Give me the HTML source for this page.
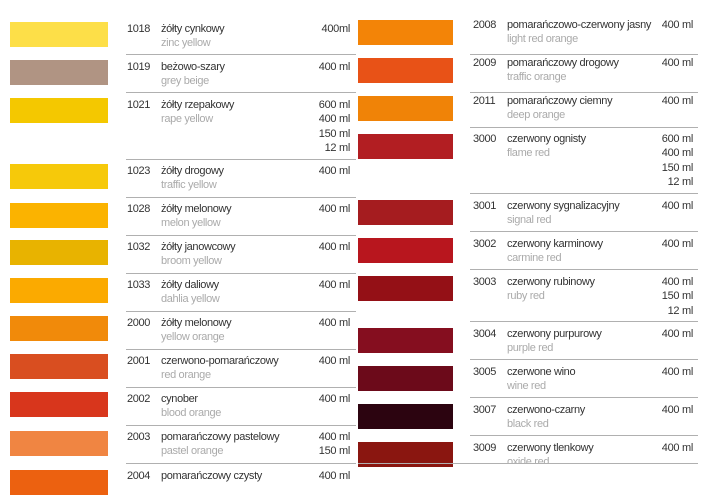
<!DOCTYPE html>
<html><head><meta charset="utf-8"><style>
body{margin:0;width:720px;height:484px;background:#fff;position:relative;overflow:hidden;font-family:"Liberation Sans","DejaVu Sans",sans-serif;font-size:11px;color:#333}
.s{position:absolute;height:25px}
.l{left:10px;width:98px}.r{left:358px;width:95px}
.t{position:absolute;line-height:14px;white-space:nowrap;letter-spacing:-0.35px}
.g{color:#aaa}
.h{position:absolute;height:1px;background:#b0b0b0}
.hl{left:126px;width:230px}.hr{left:470px;width:228px}
.m{position:absolute;text-align:right;line-height:14.3px;width:60px;letter-spacing:-0.3px}
</style></head><body>
<div class="s l" style="top:22px;background:#fddf48"></div>
<div class="s l" style="top:60px;background:#b09483"></div>
<div class="s l" style="top:98px;background:#f4c800"></div>
<div class="s l" style="top:164px;background:#f6c90a"></div>
<div class="s l" style="top:203px;background:#fbb300"></div>
<div class="s l" style="top:240px;background:#e8b300"></div>
<div class="s l" style="top:278px;background:#fbaa00"></div>
<div class="s l" style="top:316px;background:#f18a0a"></div>
<div class="s l" style="top:354px;background:#d94e20"></div>
<div class="s l" style="top:392px;background:#d8361c"></div>
<div class="s l" style="top:431px;background:#f08542"></div>
<div class="s l" style="top:470px;background:#ec6110"></div>
<div class="s r" style="top:20px;background:#f38407"></div>
<div class="s r" style="top:58px;background:#e85217"></div>
<div class="s r" style="top:96px;background:#f08307"></div>
<div class="s r" style="top:134px;background:#b21e22"></div>
<div class="s r" style="top:200px;background:#a51c1f"></div>
<div class="s r" style="top:238px;background:#b8161e"></div>
<div class="s r" style="top:276px;background:#941016"></div>
<div class="s r" style="top:328px;background:#850e1f"></div>
<div class="s r" style="top:366px;background:#6c0a1a"></div>
<div class="s r" style="top:404px;background:#2c0410"></div>
<div class="s r" style="top:442px;background:#8a1610"></div>
<div class="h hl" style="top:54px"></div><div class="h hl" style="top:92px"></div>
<div class="h hl" style="top:159px"></div><div class="h hl" style="top:197px"></div>
<div class="h hl" style="top:235px"></div><div class="h hl" style="top:273px"></div>
<div class="h hl" style="top:311px"></div><div class="h hl" style="top:349px"></div>
<div class="h hl" style="top:387px"></div><div class="h hl" style="top:425px"></div>
<div class="h hl" style="top:463px"></div>
<div class="h hr" style="top:54px"></div><div class="h hr" style="top:92px"></div>
<div class="h hr" style="top:127px"></div><div class="h hr" style="top:193px"></div>
<div class="h hr" style="top:231px"></div><div class="h hr" style="top:269px"></div>
<div class="h hr" style="top:321px"></div><div class="h hr" style="top:359px"></div>
<div class="h hr" style="top:397px"></div><div class="h hr" style="top:435px"></div>
<div class="h" style="top:463px;left:358px;width:340px"></div>
<div class="t" style="left:127px;top:22px">1018</div><div class="t" style="left:161px;top:22px">żółty cynkowy<br><span class="g">zinc yellow</span></div><div class="m" style="left:290px;top:22px">400ml</div>
<div class="t" style="left:127px;top:60px">1019</div><div class="t" style="left:161px;top:60px">beżowo-szary<br><span class="g">grey beige</span></div><div class="m" style="left:290px;top:60px">400 ml</div>
<div class="t" style="left:127px;top:98px">1021</div><div class="t" style="left:161px;top:98px">żółty rzepakowy<br><span class="g">rape yellow</span></div><div class="m" style="left:290px;top:98px">600 ml<br>400 ml<br>150 ml<br>12 ml</div>
<div class="t" style="left:127px;top:164px">1023</div><div class="t" style="left:161px;top:164px">żółty drogowy<br><span class="g">traffic yellow</span></div><div class="m" style="left:290px;top:164px">400 ml</div>
<div class="t" style="left:127px;top:202px">1028</div><div class="t" style="left:161px;top:202px">żółty melonowy<br><span class="g">melon yellow</span></div><div class="m" style="left:290px;top:202px">400 ml</div>
<div class="t" style="left:127px;top:240px">1032</div><div class="t" style="left:161px;top:240px">żółty janowcowy<br><span class="g">broom yellow</span></div><div class="m" style="left:290px;top:240px">400 ml</div>
<div class="t" style="left:127px;top:278px">1033</div><div class="t" style="left:161px;top:278px">żółty daliowy<br><span class="g">dahlia yellow</span></div><div class="m" style="left:290px;top:278px">400 ml</div>
<div class="t" style="left:127px;top:316px">2000</div><div class="t" style="left:161px;top:316px">żółty melonowy<br><span class="g">yellow orange</span></div><div class="m" style="left:290px;top:316px">400 ml</div>
<div class="t" style="left:127px;top:354px">2001</div><div class="t" style="left:161px;top:354px">czerwono-pomarańczowy<br><span class="g">red orange</span></div><div class="m" style="left:290px;top:354px">400 ml</div>
<div class="t" style="left:127px;top:392px">2002</div><div class="t" style="left:161px;top:392px">cynober<br><span class="g">blood orange</span></div><div class="m" style="left:290px;top:392px">400 ml</div>
<div class="t" style="left:127px;top:430px">2003</div><div class="t" style="left:161px;top:430px">pomarańczowy pastelowy<br><span class="g">pastel orange</span></div><div class="m" style="left:290px;top:430px">400 ml<br>150 ml</div>
<div class="t" style="left:127px;top:469px">2004</div><div class="t" style="left:161px;top:469px">pomarańczowy czysty</div><div class="m" style="left:290px;top:469px">400 ml</div>
<div class="t" style="left:473px;top:18px">2008</div><div class="t" style="left:507px;top:18px">pomarańczowo-czerwony jasny<br><span class="g">light red orange</span></div><div class="m" style="left:633px;top:18px">400 ml</div>
<div class="t" style="left:473px;top:56px">2009</div><div class="t" style="left:507px;top:56px">pomarańczowy drogowy<br><span class="g">traffic orange</span></div><div class="m" style="left:633px;top:56px">400 ml</div>
<div class="t" style="left:473px;top:94px">2011</div><div class="t" style="left:507px;top:94px">pomarańczowy ciemny<br><span class="g">deep orange</span></div><div class="m" style="left:633px;top:94px">400 ml</div>
<div class="t" style="left:473px;top:132px">3000</div><div class="t" style="left:507px;top:132px">czerwony ognisty<br><span class="g">flame red</span></div><div class="m" style="left:633px;top:132px">600 ml<br>400 ml<br>150 ml<br>12 ml</div>
<div class="t" style="left:473px;top:199px">3001</div><div class="t" style="left:507px;top:199px">czerwony sygnalizacyjny<br><span class="g">signal red</span></div><div class="m" style="left:633px;top:199px">400 ml</div>
<div class="t" style="left:473px;top:237px">3002</div><div class="t" style="left:507px;top:237px">czerwony karminowy<br><span class="g">carmine red</span></div><div class="m" style="left:633px;top:237px">400 ml</div>
<div class="t" style="left:473px;top:275px">3003</div><div class="t" style="left:507px;top:275px">czerwony rubinowy<br><span class="g">ruby red</span></div><div class="m" style="left:633px;top:275px">400 ml<br>150 ml<br>12 ml</div>
<div class="t" style="left:473px;top:327px">3004</div><div class="t" style="left:507px;top:327px">czerwony purpurowy<br><span class="g">purple red</span></div><div class="m" style="left:633px;top:327px">400 ml</div>
<div class="t" style="left:473px;top:365px">3005</div><div class="t" style="left:507px;top:365px">czerwone wino<br><span class="g">wine red</span></div><div class="m" style="left:633px;top:365px">400 ml</div>
<div class="t" style="left:473px;top:403px">3007</div><div class="t" style="left:507px;top:403px">czerwono-czarny<br><span class="g">black red</span></div><div class="m" style="left:633px;top:403px">400 ml</div>
<div class="t" style="left:473px;top:441px">3009</div><div class="t" style="left:507px;top:441px">czerwony tlenkowy</div><div class="m" style="left:633px;top:441px">400 ml</div>
<div class="t g" style="left:507px;top:455px;height:8px;overflow:hidden">oxide red</div>
</body></html>
